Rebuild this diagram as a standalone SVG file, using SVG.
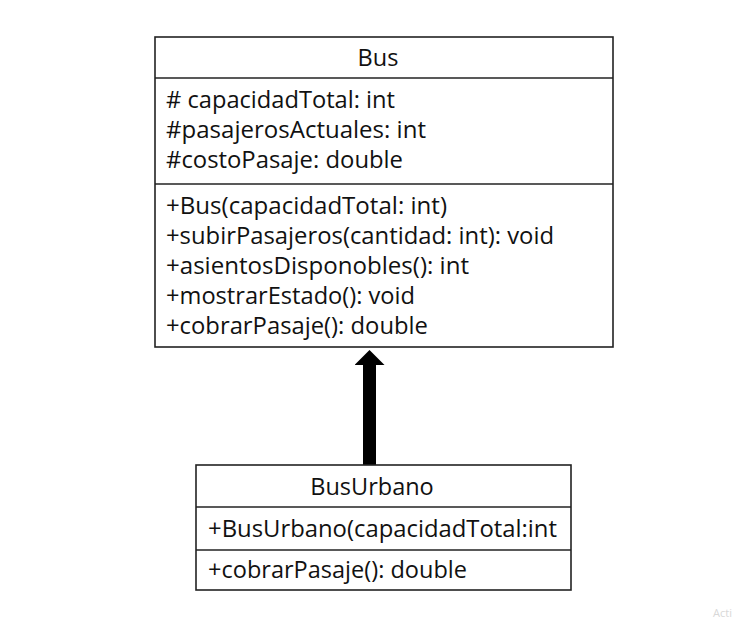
<svg xmlns="http://www.w3.org/2000/svg" width="750" height="620" viewBox="0 0 750 620">
  <defs>
    <style>
      .box { fill: #ffffff; stroke: #222222; stroke-width: 1.6; }
      .div { stroke: #222222; stroke-width: 1.6; }
      .t { font-family: "Open Sans", "Liberation Sans", sans-serif; font-size: 23.5px; fill: #111111; }
      .h { text-anchor: middle; }
      .wm { font-family: "Open Sans", "Liberation Sans", sans-serif; font-size: 11px; fill: #d8d8d8; }
    </style>
    <marker id="inh" markerUnits="userSpaceOnUse" viewBox="0 0 15 30" markerWidth="15" markerHeight="30" refX="0" refY="15" orient="auto">
      <path d="M0,0 L15,15 L0,30 Z" fill="#000000"/>
    </marker>
  </defs>
  <rect width="750" height="620" fill="#ffffff"/>

  <g id="connectors">
    <line x1="369.5" y1="465" x2="369.5" y2="365" stroke="#000000" stroke-width="13" marker-end="url(#inh)"/>
  </g>

  <g id="node-bus">
    <rect class="box" x="155" y="37" width="458" height="310"/>
    <line class="div" x1="155" y1="78" x2="613" y2="78"/>
    <line class="div" x1="155" y1="184" x2="613" y2="184"/>
    <text class="t h" x="378" y="65.5">Bus</text>
    <text class="t" x="166" y="107.5" textLength="229" lengthAdjust="spacingAndGlyphs">#&#160;capacidadTotal: int</text>
    <text class="t" x="166" y="137.5" textLength="260" lengthAdjust="spacingAndGlyphs">#pasajerosActuales: int</text>
    <text class="t" x="166" y="167.5" textLength="237" lengthAdjust="spacingAndGlyphs">#costoPasaje: double</text>
    <text class="t" x="166" y="213.5" textLength="281" lengthAdjust="spacingAndGlyphs">+Bus(capacidadTotal: int)</text>
    <text class="t" x="166" y="243.5" textLength="388" lengthAdjust="spacingAndGlyphs">+subirPasajeros(cantidad: int): void</text>
    <text class="t" x="166" y="273.5" textLength="303" lengthAdjust="spacingAndGlyphs">+asientosDisponobles(): int</text>
    <text class="t" x="166" y="303.5" textLength="249" lengthAdjust="spacingAndGlyphs">+mostrarEstado(): void</text>
    <text class="t" x="166" y="334" textLength="262" lengthAdjust="spacingAndGlyphs">+cobrarPasaje(): double</text>
  </g>

  <g id="node-busurbano">
    <rect class="box" x="196" y="465" width="375" height="125"/>
    <line class="div" x1="196" y1="507" x2="571" y2="507"/>
    <line class="div" x1="196" y1="550" x2="571" y2="550"/>
    <text class="t h" x="372" y="494.5">BusUrbano</text>
    <text class="t" x="208" y="536.5" textLength="349" lengthAdjust="spacingAndGlyphs">+BusUrbano(capacidadTotal:int</text>
    <text class="t" x="208" y="578" textLength="259" lengthAdjust="spacingAndGlyphs">+cobrarPasaje(): double</text>
  </g>

  <text class="wm" x="713" y="617">Acti</text>
</svg>
